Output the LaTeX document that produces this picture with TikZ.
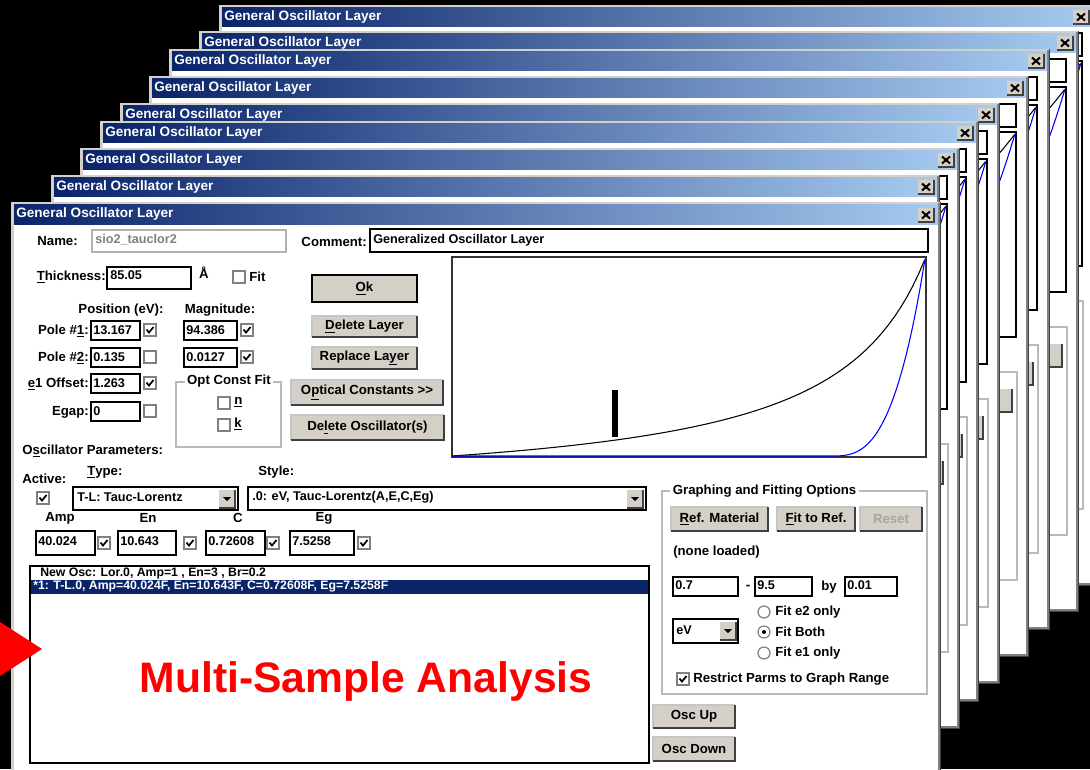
\documentclass[tikz,border=0pt]{standalone}
\usepackage{fontspec}
\setmainfont{Liberation Sans}

\definecolor{titledark}{HTML}{0A246A}
\definecolor{titlelight}{HTML}{A6CAF0}
\definecolor{btnface}{HTML}{D4D0C8}
\definecolor{btnshadow}{HTML}{404040}
\definecolor{framegray}{HTML}{808080}
\definecolor{selnavy}{HTML}{0A246A}

\newcommand\uifont{\fontsize{9.9}{11}\selectfont\bfseries}
\newcommand\valfont{\fontsize{9.5}{11}\selectfont\bfseries}
\newcommand\listfont{\fontsize{9.2}{11}\selectfont\bfseries}
\newcommand\titlefont{\fontsize{10.2}{12}\selectfont\bfseries}
\newcommand\accel[1]{\underline{#1}}

\tikzset{
  lbl/.style={font=\uifont, inner sep=0pt},
  val/.style={font=\valfont, inner sep=0pt, anchor=west},
  field/.style={draw=black, fill=white, line width=0.9pt},
  chkframe/.style={draw=framegray, fill=white, line width=0.9pt},
  tick/.style={line width=1.3pt},
  groupbox/.style={draw=gray!55, line width=0.8pt},
  wintitle/.style={font=\titlefont, text=white, inner sep=0pt, anchor=west},
}

% push button: name, top left, bottom right, label
\newcommand\winbutton[6]{%
  \fill[btnface] (#2,#3) rectangle (#4,#5);
  \draw[gray!45, line width=0.8pt] (#2,#5) -- (#2,#3) -- (#4,#3);
  \draw[btnshadow, line width=1.3pt] (#2,#5) -- (#4,#5) -- (#4,#3);
  \node[lbl] (#1) at ({(#2+#4)/2},{(#3+#5)/2}) {#6};
}
\newcommand\chkbox[3]{%
  \draw[chkframe] (#1,#2) rectangle ++(12,12);
  \ifnum#3=1 \draw[tick, shift={(#1,#2)}] (2.5,5.5) -- (5,8.5) -- (9.5,3);\fi
}
\newcommand\radio[3]{%
  \draw[chkframe] (#1,#2) circle (6);
  \ifnum#3=1 \fill (#1,#2) circle (2);\fi
}
\newcommand\dropbtn[2]{%
  \fill[btnface] (#1,#2) rectangle ++(16,18);
  \draw[btnshadow, line width=1.2pt] (#1,#2+18) -- ++(16,0) -- ++(0,-18);
  \fill[shift={(#1,#2)}] (4,7) -- (12,7) -- (8,11) -- cycle;
}
\newcommand\closebtn[2]{%
  \fill[btnface] (#1-22,#2+5) rectangle (#1-6,#2+19);
  \draw[btnshadow, line width=1pt] (#1-22,#2+19) -- (#1-6,#2+19) -- (#1-6,#2+5);
  \draw[line width=1.5pt] (#1-18,#2+8.5) -- (#1-10,#2+15.5) (#1-18,#2+15.5) -- (#1-10,#2+8.5);
}
% e1 / e2 curves: left, right, bottom, top
\newcommand\plotcurves[4]{%
  \draw[line width=0.8pt] plot[domain=0:1, samples=80]
    ({(#1)+((#2)-(#1))*\x},{(#3)-((#3)-(#4))*(1/(1.2-\x)-1/1.2)/4.1667});
  \draw[blue, line width=0.8pt] ({(#1)+1},{#3}) -- ({(#1)+0.8*((#2)-(#1))},{#3})
    -- plot[domain=0.8:1, samples=40] ({(#1)+((#2)-(#1))*\x},{(#3)-((#3)-(#4))*((\x-0.8)/0.2)^3});
}
% window behind the front one: name, left, top, right
\newcommand\backwin[4]{%
  \fill[btnface] (#2,#3) rectangle (#4,#3+581);
  \fill[white] (#2+3,#3+22) rectangle (#4-3,#3+578);
  \draw[btnshadow, line width=1pt] (#4-0.5,#3) -- (#4-0.5,#3+580.5) -- (#2,#3+580.5);
  \draw[framegray, line width=1pt] (#4-2,#3+1) -- (#4-2,#3+579) -- (#2+1,#3+579);
  \shade[left color=titledark, right color=titlelight] (#2+3,#3+2) rectangle (#4-3,#3+21);
  \node[wintitle] (#1) at (#2+5,#3+12) {General Oscillator Layer};
  \closebtn{#4}{#3}
  \draw[field] (#4-570,#3+28) rectangle (#4-13,#3+51);
  \draw[field] (#4-489,#3+56) rectangle (#4-13,#3+261);
  \begin{scope}
    \clip (#4-489,#3+56) rectangle (#4-13,#3+261);
    \plotcurves{#4-914}{#4-14}{#3+259}{#3+58}
  \end{scope}
  \draw[groupbox] (#4-278,#3+296) rectangle (#4-12,#3+504);
  \fill[btnface] (#4-78,#3+313) rectangle (#4-17,#3+336);
  \draw[btnshadow, line width=1.3pt] (#4-78,#3+336) -- (#4-17,#3+336) -- (#4-17,#3+313);
}

\begin{document}
\begin{tikzpicture}[x=0.75pt, y=-0.75pt]
    \useasboundingbox (0,0) rectangle (1090,769);
    \clip (0,0) rectangle (1090,769);
    \fill[black] (0,0) rectangle (1090,769);

    % the stack of layer windows
    \backwin{title1}{219}{5}{1095}
    \backwin{title2}{199}{31}{1079}
    \backwin{title3}{169}{49}{1050}
    \backwin{title4}{149}{76}{1029}
    \backwin{title5}{120}{103}{1000}
    \backwin{title6}{100}{121}{979}
    \backwin{title7}{80}{148}{960}
    \backwin{title8}{51}{175}{940}

    % front window
    \fill[btnface] (11,202) rectangle (941,790);
    \fill[white] (14,225) rectangle (938,790);
    \draw[btnshadow, line width=1pt] (940.5,202) -- (940.5,790);
    \draw[framegray, line width=1pt] (939,203) -- (939,790);
    \shade[left color=titledark, right color=titlelight] (14,204) rectangle (938,224);
    \node[wintitle] (title9) at (16,214) {General Oscillator Layer};
    \closebtn{940}{203}

    \node[lbl, anchor=east] (namelbl) at (78,241) {Name:};
    \draw[field, draw=gray!60] (92,230) rectangle (286,252);
    \node[val, text=gray] (nameval) at (95,240) {sio2\_tauclor2};
    \node[lbl, anchor=east] (commentlbl) at (367,242) {Comment:};
    \draw[field] (370,229) rectangle (928,252);
    \node[val] (commentval) at (373,240) {Generalized Oscillator Layer};

    \node[lbl, anchor=east] (thicklbl) at (106,277) {\accel{T}hickness:};
    \draw[field] (107,267) rectangle (191,289);
    \node[val] (thickval) at (110,275) {85.05};
    \node[lbl] (angstrom) at (204,273) {Å};
    \chkbox{233}{271}{0}
    \node[lbl, anchor=west] (fitlbl) at (249,277) {Fit};

    \winbutton{ok}{312}{275}{417}{302}{\accel{O}k}
    \draw[line width=1pt] (312,275) rectangle (417,302);
    \winbutton{dellayer}{312}{316}{417}{337}{\accel{D}elete Layer}
    \winbutton{replayer}{312}{347}{417}{369}{Replace La\accel{y}er}

    \node[lbl] (poslbl) at (121,310) {Position (eV):};
    \node[lbl] (maglbl) at (220,310) {Magnitude:};

    \node[lbl, anchor=east] (pole1lbl) at (89,331) {Pole \#\accel{1}:};
    \draw[field] (91,321) rectangle (140,340);
    \node[val] (pole1pos) at (93,330) {13.167};
    \chkbox{144}{324}{1}
    \draw[field] (184,321) rectangle (237,340);
    \node[val] (pole1mag) at (186,330) {94.386};
    \chkbox{241}{324}{1}

    \node[lbl, anchor=east] (pole2lbl) at (89,358) {Pole \#\accel{2}:};
    \draw[field] (91,348) rectangle (140,367);
    \node[val] (pole2pos) at (93,357) {0.135};
    \chkbox{144}{351}{0}
    \draw[field] (184,348) rectangle (237,367);
    \node[val] (pole2mag) at (186,357) {0.0127};
    \chkbox{241}{351}{1}

    \node[lbl, anchor=east] (offsetlbl) at (89,384) {\accel{e}1 Offset:};
    \draw[field] (91,374) rectangle (140,393);
    \node[val] (offsetval) at (93,383) {1.263};
    \chkbox{144}{377}{1}

    \node[lbl, anchor=east] (egaplbl) at (89,412) {Egap:};
    \draw[field] (91,402) rectangle (140,421);
    \node[val] (egapval) at (93,411) {0};
    \chkbox{144}{405}{0}

    \draw[groupbox] (176,382) rectangle (281,447);
    \node[lbl, fill=white, inner xsep=2pt] (optlbl) at (229,381) {Opt Const Fit};
    \chkbox{218}{397}{0}
    \node[lbl, anchor=west] (nlbl) at (234,402) {\accel{n}};
    \chkbox{218}{419}{0}
    \node[lbl, anchor=west] (klbl) at (234,424) {\accel{k}};

    \winbutton{optconst}{291}{380}{443}{405}{O\accel{p}tical Constants >{}>}
    \winbutton{delosc}{291}{415}{444}{440}{De\accel{l}ete Oscillator(s)}

    % graph
    \draw[field, draw=black!80] (452,257) rectangle (926,457);
    \plotcurves{452}{925}{456}{259}
    \fill (612,390) rectangle (618,437);

    \node[lbl, anchor=west] (oscparams) at (22,451) {O\accel{s}cillator Parameters:};
    \node[lbl, anchor=west] (activelbl) at (22,479) {Active:};
    \node[lbl, anchor=west] (typelbl) at (87,472) {\accel{T}ype:};
    \node[lbl, anchor=west] (stylelbl) at (258,472) {Style:};
    \chkbox{37}{492}{1}
    \draw[field] (73,487) rectangle (238,510);
    \node[val] (typeval) at (77,497) {T-L: Tauc-Lorentz};
    \dropbtn{219}{490}
    \draw[field] (248,487) rectangle (646,510);
    \node[val] (styleval) at (252,497) {.0: eV, Tauc-Lorentz(A,E,C,Eg)};
    \dropbtn{627}{490}

    \node[lbl] (amplbl) at (60,518) {Amp};
    \node[lbl] (enlbl) at (148,518) {En};
    \node[lbl] (clbl) at (238,518) {C};
    \node[lbl] (eglbl) at (324,518) {Eg};
    \draw[field] (36,531) rectangle (95,555);
    \node[val] (ampval) at (38,541) {40.024};
    \chkbox{98}{537}{1}
    \draw[field] (118,531) rectangle (176,555);
    \node[val] (enval) at (120,541) {10.643};
    \chkbox{184}{537}{1}
    \draw[field] (206,531) rectangle (265,555);
    \node[val] (cval) at (208,541) {0.72608};
    \chkbox{267}{537}{1}
    \draw[field] (290,531) rectangle (354,555);
    \node[val] (egval) at (292,541) {7.5258};
    \chkbox{358}{537}{1}

    % oscillator list
    \draw[field] (30,566) rectangle (649,763);
    \node[font=\listfont, inner sep=0pt, anchor=west] (osc0) at (40,573) {New Osc: Lor.0, Amp=1 , En=3 , Br=0.2};
    \fill[selnavy] (31,580) rectangle (648,594);
    \node[font=\listfont, inner sep=0pt, anchor=west, text=white] (osc1) at (33,587) {*1: T-L.0, Amp=40.024F, En=10.643F, C=0.72608F, Eg=7.5258F};

    % graphing and fitting options
    \draw[groupbox] (662,491) rectangle (927,694);
    \node[lbl, fill=white, inner xsep=2pt, anchor=west] (graphlbl) at (670,491) {Graphing and Fitting Options};
    \winbutton{refmat}{671}{507}{768}{531}{\accel{R}ef. Material}
    \winbutton{fitref}{777}{507}{855}{531}{\accel{F}it to Ref.}
    \winbutton{reset}{860}{507}{922}{531}{\textcolor{gray!70}{Reset}}
    \node[lbl, anchor=west] (noneloaded) at (673,552) {(none loaded)};
    \draw[field] (673,577) rectangle (738,596);
    \node[val] (rangelo) at (675,585) {0.7};
    \node[lbl] (rangedash) at (748,587) {-};
    \draw[field] (755,577) rectangle (812,596);
    \node[val] (rangehi) at (757,585) {9.5};
    \node[lbl] (bylbl) at (829,587) {by};
    \draw[field] (845,577) rectangle (897,596);
    \node[val] (rangestep) at (847,585) {0.01};
    \draw[field] (673,619) rectangle (738,643);
    \node[val] (unitval) at (676,630) {eV};
    \dropbtn{720}{622}
    \radio{764}{612}{0}
    \node[lbl, anchor=west] (fite2) at (775,612) {Fit e2 only};
    \radio{764}{632}{1}
    \node[lbl, anchor=west] (fitboth) at (775,632) {Fit Both};
    \radio{764}{653}{0}
    \node[lbl, anchor=west] (fite1) at (775,653) {Fit e1 only};
    \chkbox{677}{673}{1}
    \node[lbl, anchor=west] (restrict) at (693,679) {Restrict Parms to Graph Range};

    \winbutton{oscup}{653}{705}{735}{728}{Osc Up}
    \winbutton{oscdown}{653}{737}{735}{761}{Osc Down}

    % banner
    \node[font=\fontsize{32}{36}\selectfont\bfseries, text=red, inner sep=0pt, anchor=base] (banner) at (366,692) {Multi-Sample Analysis};
    \fill[red] (0,622) -- (42,649) -- (0,676) -- cycle;
\end{tikzpicture}
\end{document}
